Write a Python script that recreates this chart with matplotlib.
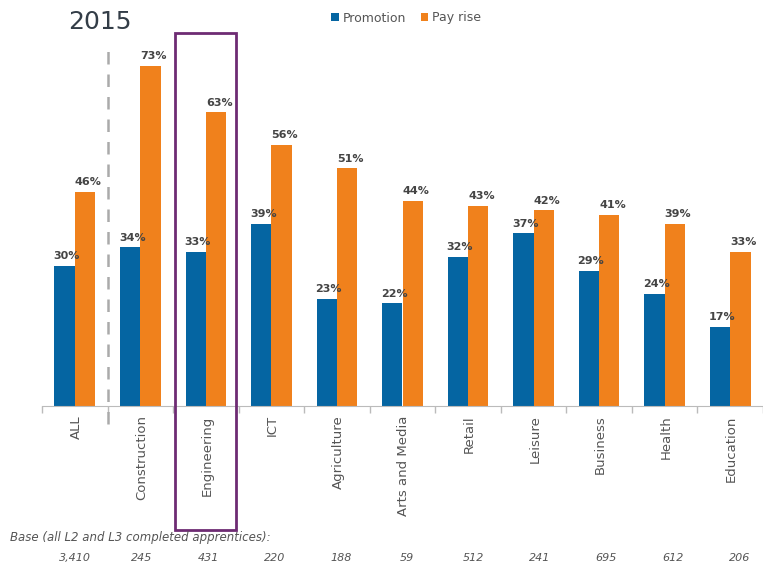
import numpy as np
from matplotlib import pyplot as plt
from matplotlib.patches import Rectangle

# Datos
categorias = ["ALL", "Construction", "Engineering", "ICT", "Agriculture",
              "Arts and Media", "Retail", "Leisure", "Business", "Health", "Education"]
promocion = [30, 34, 33, 39, 23, 22, 32, 37, 29, 24, 17]
aumento = [46, 73, 63, 56, 51, 44, 43, 42, 41, 39, 33]
base = ["3,410", "245", "431", "220", "188", "59", "512", "241", "695", "612", "206"]

azul = "#0565a2"
naranja = "#f0811c"
gris = "#555555"

fig = plt.figure(figsize=(7.63, 5.67), dpi=100)
# ejes: izquierda x=42px, base y=406px
ax = fig.add_axes([42 / 763, 1 - 406 / 567, 1 - 42 / 763, (406 - 33) / 567])

x = np.arange(len(categorias))
w = 0.31
ax.bar(x - w / 2, promocion, w, color=azul, label="Promotion")
ax.bar(x + w / 2, aumento, w, color=naranja, label="Pay rise")

for i in range(len(categorias)):
    ax.text(x[i] - w / 2 + 0.03, promocion[i] + 1.0, f"{promocion[i]}%", ha="center", va="bottom",
            fontsize=8, fontweight="bold", color="#444444")
    ax.text(x[i] + w / 2 + 0.05, aumento[i] + 1.0, f"{aumento[i]}%", ha="center", va="bottom",
            fontsize=8, fontweight="bold", color="#444444")

ax.set_xlim(-0.5, -0.5 + 721 / 66.4)
ax.set_ylim(0, 80)

# Configuracion de los ejes
for lado in ["top", "right", "left"]:
    ax.spines[lado].set_visible(False)
ax.spines["bottom"].set_color("#bbbbbb")
ax.set_yticks([])
ax.set_xticks(np.arange(-0.5, 11, 1))
ax.set_xticklabels([])
ax.tick_params(axis="x", length=5, color="#bbbbbb", width=1)

for i, c in enumerate(categorias):
    ax.text(x[i] + 0.02, -2.0, c, rotation=90, ha="center", va="top", fontsize=9.5, color=gris)

# Linea discontinua despues de ALL
ax.plot([0.5, 0.5], [-3.8, 76.5], ls=(0, (5, 4)), color="#aaaaaa", lw=1.8, clip_on=False)

# Recuadro de Engineering
fig.add_artist(Rectangle((175 / 763, 1 - 530 / 567), 61 / 763, 497 / 567,
                         fill=False, edgecolor="#6e2b73", lw=2, transform=fig.transFigure))

fig.text(68 / 763, 1 - 22 / 567, "2015", fontsize=18, color="#333d47", va="center")

leg = fig.legend(loc="center", bbox_to_anchor=(406 / 763, 1 - 18 / 567), ncol=2, frameon=False,
                 fontsize=9, handlelength=0.6, handleheight=0.6, handletextpad=0.3,
                 columnspacing=1.2)
for t in leg.get_texts():
    t.set_color(gris)

fig.text(10 / 763, 1 - 538 / 567, "Base (all L2 and L3 completed apprentices):", fontsize=8.5,
         style="italic", color=gris, va="center")
for i, b in enumerate(base):
    xp = 42 + (i + 0.5) * 66.4
    fig.text(xp / 763, 1 - 558 / 567, b, fontsize=8, style="italic", color=gris,
             ha="center", va="center")

plt.savefig("out.png", dpi=100)
